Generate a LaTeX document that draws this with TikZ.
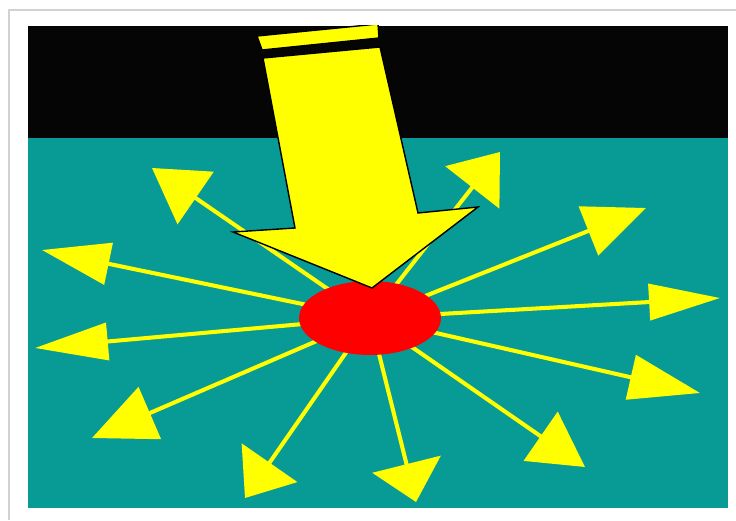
\documentclass[tikz,border=0pt]{standalone}
\usepackage{tikz}
\usetikzlibrary{arrows.meta, shapes.geometric}
\definecolor{sceneteal}{RGB}{8,155,150}
\definecolor{sceneyellow}{RGB}{255,255,0}
\definecolor{scenered}{RGB}{255,0,0}
\definecolor{sceneblack}{RGB}{5,5,5}
\tikzset{ray/.style={draw=sceneyellow, line width=2.3pt}}

\begin{document}
\begin{tikzpicture}[x=0.02cm, y=-0.02cm]
    \useasboundingbox (0,0) rectangle (736,520);
    \fill [white] (0,0) rectangle (736,520);
    % panel shadow
    \draw [gray!35, line width=1.2pt] (9,520) -- (9,10) -- (736,10);
    \fill [sceneteal] (28,26) rectangle (728,508);
    \fill [sceneblack] (28,26) rectangle (728,138);

    \coordinate (centre) at (370,318);
    \foreach \tx/\ty/\len/\wid [count=\i] in {152/168/1.06/1.26, 42/250/1.36/0.84, 35/348/1.46/0.74, 92/438/1.26/1.12, 245/498/0.86/1.34, 416/502/0.78/1.40, 585/467/1.08/1.18, 700/393/1.42/0.90, 720/298/1.42/0.72, 646/208/1.24/1.04, 500/152/0.90/1.36} {
        \coordinate (tip\i) at (\tx,\ty);
        \draw [ray, -{Triangle[length=\len cm, width=\wid cm]}] (centre) -- (tip\i);
    }
    \node [ellipse, fill=scenered, minimum width=2.84cm, minimum height=1.48cm, inner sep=0pt] (spot) at (centre) {};

    \begin{scope}
        \clip (28,26) rectangle (728,508);
        \filldraw [fill=sceneyellow, draw=black, line width=0.8pt] (263,58) -- (380,47) -- (418,213) -- (478,207) -- (372,288) -- (233,232) -- (295,228) -- cycle;
        \filldraw [fill=sceneyellow, draw=black, line width=0.8pt] (257,36) -- (378,24) -- (379,38) -- (262,50) -- cycle;
    \end{scope}
\end{tikzpicture}
\end{document}
